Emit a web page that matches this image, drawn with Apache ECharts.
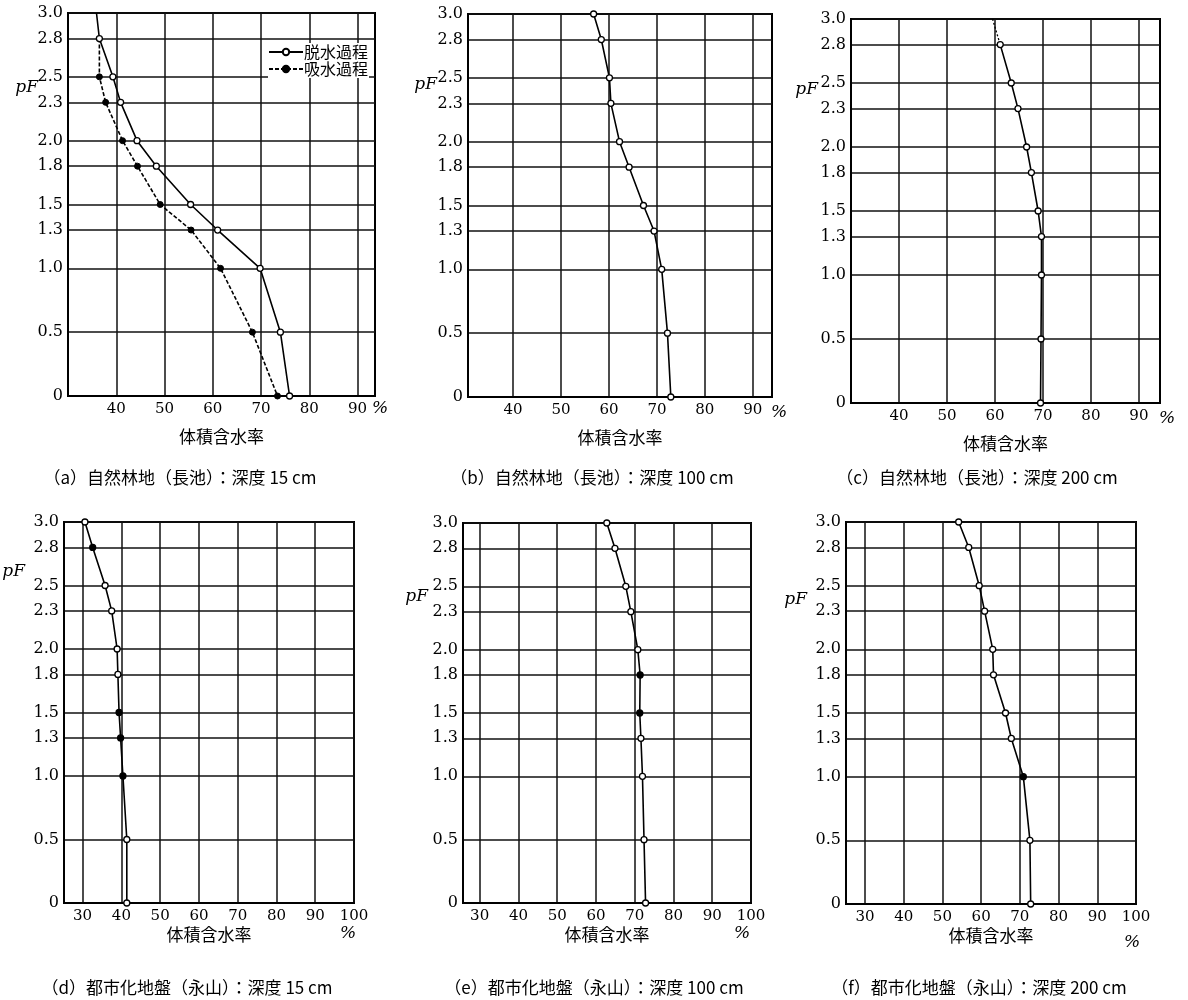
<!DOCTYPE html>
<html>
<head>
<meta charset="utf-8">
<title>pF曲線</title>
<script src="https://cdn.jsdelivr.net/npm/echarts@6/dist/echarts.min.js"></script>
<style>
html,body{margin:0;padding:0;background:#fff;}
#chartmain{width:1188px;height:1000px;}
</style>
</head>
<body>
<div id="chartmain"></div>
<script>
// pF（縦軸）
var pfLevels = [3.0, 2.8, 2.5, 2.3, 2.0, 1.8, 1.5, 1.3, 1.0, 0.5, 0];
var pfTicks = [0, 0.5, 1.0, 1.3, 1.5, 1.8, 2.0, 2.3, 2.5, 2.8, 3.0];
// 体積含水率（横軸）
var xTicksTop = [30, 40, 50, 60, 70, 80, 90];
var xLabelsTop = [40, 50, 60, 70, 80, 90];
var xTicksBottom = [30, 40, 50, 60, 70, 80, 90, 100];

// (a) 自然林地（長池）深度15cm
var aDry = [35.9, 36.5, 39.3, 40.9, 44.3, 48.3, 55.4, 61.0, 69.8, 74.0, 75.9];
var aWet = [null, 36.5, 36.5, 37.8, 41.3, 44.4, 49.1, 55.5, 61.6, 68.2, 73.4];
// (b) 自然林地（長池）深度100cm
var bDry = [56.8, 58.4, 60.1, 60.4, 62.2, 64.2, 67.2, 69.4, 71.0, 72.2, 72.9];
// (c) 自然林地（長池）深度200cm  3.0は点線
var cTop = 59.5;
var cDry = [null, 61.1, 63.4, 64.8, 66.6, 67.6, 69.0, 69.7, 69.7, 69.6, 69.5];
// (d) 都市化地盤（永山）深度15cm
var dDry = [30.6, 32.6, 35.8, 37.5, 38.9, 39.1, 39.4, 39.8, 40.4, 41.4, 41.4];
var dSolid = [2.8, 1.5, 1.3, 1.0];
// (e) 都市化地盤（永山）深度100cm
var eDry = [62.8, 64.9, 67.7, 69.0, 70.8, 71.4, 71.3, 71.6, 72.0, 72.4, 72.8];
var eSolid = [1.8, 1.5];
// (f) 都市化地盤（永山）深度200cm
var fDry = [54.2, 56.8, 59.5, 60.9, 63.0, 63.2, 66.3, 67.8, 70.9, 72.6, 72.8];
var fSolid = [1.0];

var captions = [
	'（a）自然林地（長池）：深度 15 cm',
	'（b）自然林地（長池）：深度 100 cm',
	'（c）自然林地（長池）：深度 200 cm',
	'（d）都市化地盤（永山）：深度 15 cm',
	'（e）都市化地盤（永山）：深度 100 cm',
	'（f）都市化地盤（永山）：深度 200 cm'
];

var numFont = 'DejaVu Serif';
var jpFont = '"Noto Sans CJK JP", "Noto Sans CJK SC", sans-serif';

// 各図の配置
var panels = [
	{left:68,  top:13,  width:307, height:383, xMin:30,   xMax:93.6, row:0, pfDx:30, pfDy:75, pctGap:-3, pctPad:4,  capX:180, capY:478},
	{left:468, top:14,  width:304, height:383, xMin:30.6, xMax:94,   row:0, pfDx:31, pfDy:71, pctGap:-1, pctPad:7,  capX:592, capY:478},
	{left:851, top:19,  width:309, height:384, xMin:30,   xMax:94.4, row:0, pfDx:33, pfDy:71, pctGap:-1, pctPad:7,  capX:977, capY:478},
	{left:64,  top:522, width:290, height:381, xMin:25.2, xMax:100,  row:1, pfDx:39, pfDy:50, pctGap:-6, pctPad:22, capX:187, capY:988},
	{left:463, top:523, width:288, height:380, xMin:25.7, xMax:100,  row:1, pfDx:35, pfDy:74, pctGap:-9, pctPad:22, capX:594, capY:988},
	{left:846, top:522, width:290, height:382, xMin:25.1, xMax:100,  row:1, pfDx:39, pfDy:78, pctGap:-4, pctPad:30, capX:979, capY:988}
];

function toPoints(xs, solidAt, noSymbolAt){
	var out = [];
	for (var i = 0; i < xs.length; i++) {
		if (xs[i] == null) continue;
		var p = {value:[xs[i], pfLevels[i]]};
		if (solidAt && solidAt.indexOf(pfLevels[i]) >= 0) {
			p.itemStyle = {color:'#000'};
		}
		if (noSymbolAt != null && noSymbolAt === pfLevels[i]) {
			p.symbol = 'none';
		}
		out.push(p);
	}
	return out;
}

function curve(name, idx, data, wet){
	return {
		name: name,
		type: 'line',
		xAxisIndex: idx * 2,
		yAxisIndex: idx,
		data: data,
		symbol: 'circle',
		symbolSize: 6,
		z: wet ? 4 : 5,
		lineStyle: {color:'#000', width:1.6, type: wet ? [4, 2] : 'solid'},
		itemStyle: wet ? {color:'#000', borderColor:'#000', borderWidth:1} : {color:'#fff', borderColor:'#000', borderWidth:1.3}
	};
}

var grids = [], xAxes = [], yAxes = [], texts = [];
for (var k = 0; k < panels.length; k++) {
	var pn = panels[k];
	var bottomRow = pn.row == 1;
	grids.push({left:pn.left, top:pn.top, width:pn.width, height:pn.height, show:true, borderColor:'#000', borderWidth:2, backgroundColor:'transparent'});
	// 横軸（体積含水率）
	xAxes.push({
		type:'value', gridIndex:k, min:pn.xMin, max:pn.xMax,
		name:'体積含水率', nameLocation:'middle', nameGap: bottomRow ? 23 : 32,
		nameMoveOverlap:false,
		nameTextStyle:{fontFamily:jpFont, fontSize:17, color:'#000'},
		axisLine:{show:true, lineStyle:{color:'#000', width:2}},
		axisTick:{show:false, customValues: bottomRow ? xTicksBottom : xTicksTop},
		axisLabel:{customValues: bottomRow ? xTicksBottom : xLabelsTop, margin:6, fontFamily:numFont, fontSize:15, color:'#000'},
		splitLine:{show:true, lineStyle:{color:'#111', width:1.5}}
	});
	// 「%」だけの補助軸
	xAxes.push({
		type:'value', gridIndex:k, position:'bottom', min:pn.xMin, max:pn.xMax,
		name:'%', nameLocation:'end', nameGap:pn.pctGap,
		nameMoveOverlap:false,
		nameTextStyle: bottomRow
			? {fontFamily:numFont, fontSize:17, fontStyle:'italic', color:'#000', align:'center', verticalAlign:'top', padding:[pn.pctPad, 0, 0, 0]}
			: {fontFamily:numFont, fontSize:17, fontStyle:'italic', color:'#000', align:'left', verticalAlign:'top', padding:[pn.pctPad, 0, 0, 0]},
		axisLine:{show:false}, axisTick:{show:false}, axisLabel:{show:false}, splitLine:{show:false}
	});
	yAxes.push({
		type:'value', gridIndex:k, min:0, max:3,
		name:'pF', nameLocation:'end', nameGap:-pn.pfDy,
		nameMoveOverlap:false,
		nameTextStyle:{fontFamily:numFont, fontSize:17, fontStyle:'italic', color:'#000', align:'right', verticalAlign:'middle', padding:[0, pn.pfDx, 0, 0]},
		axisLine:{show:true, lineStyle:{color:'#000', width:2}},
		axisTick:{show:false, customValues:pfTicks},
		axisLabel:{customValues:pfTicks, margin:5, fontFamily:numFont, fontSize:16, color:'#000',
			formatter:function(v){ return v === 0 ? '0' : v.toFixed(1); }},
		splitLine:{show:true, lineStyle:{color:'#111', width:1.5}}
	});
	texts.push({type:'text', x:pn.capX, y:pn.capY, style:{text:captions[k], align:'center', verticalAlign:'middle', font:'17px ' + jpFont, fill:'#000'}});
}

var series = [
	curve('脱水過程', 0, toPoints(aDry, null, 3.0), false),
	curve('吸水過程', 0, toPoints(aWet, pfLevels, 2.8), true),
	curve('脱水過程', 1, toPoints(bDry)),
	{name:'外挿', type:'line', xAxisIndex:4, yAxisIndex:2, symbol:'none', z:4,
		data:[[cTop, pfLevels[0]], [cDry[1], pfLevels[1]]],
		lineStyle:{color:'#000', width:1.3, type:[2, 2]}},
	curve('脱水過程', 2, toPoints(cDry)),
	curve('脱水過程', 3, toPoints(dDry, dSolid)),
	curve('脱水過程', 4, toPoints(eDry, eSolid)),
	curve('脱水過程', 5, toPoints(fDry, fSolid))
];

var myChart = echarts.init(document.getElementById('chartmain'));
option = {
	backgroundColor:'#fff',
	animation:false,
	legend:{
		data:['脱水過程', '吸水過程'],
		orient:'vertical', left:268, top:43,
		itemWidth:34, itemHeight:8, itemGap:1,
		selectedMode:false,
		backgroundColor:'#fff', padding:[1, 1, 1, 0],
		textStyle:{fontFamily:jpFont, fontSize:16, color:'#000', padding:[0, 0, 0, -4]}
	},
	grid:grids,
	xAxis:xAxes,
	yAxis:yAxes,
	series:series,
	graphic:{elements:texts}
};
myChart.setOption(option);
</script>
</body>
</html>
